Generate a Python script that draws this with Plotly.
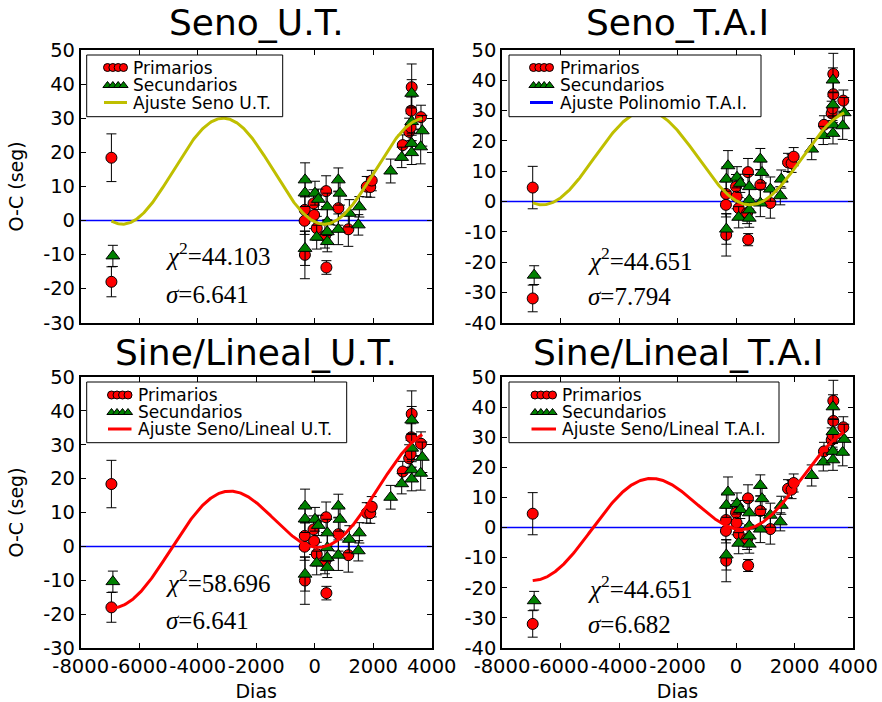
import numpy as np
import plotly.graph_objects as go

# ---------------- data ----------------
# U.T. data
prim_ut_x = [-6950, -6950, -345, -340, -335, -40, -20, 70, 350, 390, 400, 810, 1150,
             1780, 1900, 1950, 3010, 3230, 3280, 3300, 3316, 3634]
prim_ut_y = [18.4, -18.0, -0.1, 3.1, -10.1, 5.0, 1.6, -2.3, -4.6, 8.6, -13.8, 3.6, -2.6,
             9.9, 9.8, 11.7, 22.1, 26.0, 27.3, 32.2, 39.1, 30.3]
prim_ut_e = [7.0, 4.4, 4.0, 4.0, 7.0, 4.0, 4.0, 3.5, 3.5, 4.5, 2.0, 5.0, 5.0,
             3.0, 3.0, 3.0, 3.0, 4.0, 4.0, 4.0, 6.8, 3.5]

sec_ut_x = [-6900, -330, -330, -330, 10, 124, 68, 431, 431, 431, 431, 808, 865, 808,
            1184, 1526, 1492, 2598, 2974, 3316, 3316, 3316, 3316, 3679, 3624]
sec_ut_y = [-10.4, 11.9, 8.1, -8.2, 8.0, 6.2, -4.9, 4.0, -0.4, -3.3, -6.2, 11.9, 8.0, -2.6,
            2.1, 4.0, -1.3, 14.5, 18.5, 37.3, 29.0, 22.6, 19.9, 26.3, 21.6]
sec_ut_e = [3.1, 5.0, 4.0, 5.0, 3.5, 3.0, 3.5, 4.0, 4.0, 3.5, 3.0, 3.5, 3.5, 4.5,
            4.0, 3.0, 3.0, 3.5, 3.0, 4.0, 4.0, 3.0, 3.5, 4.5, 5.0]

# T.A.I. data
prim_tai_x = [-6950, -6950, -345, -340, -335, 0, 20, 92, 380, 410, 415, 832, 1174,
              1778, 1900, 1972, 3008, 3271, 3300, 3327, 3327, 3669]
prim_tai_y = [4.6, -32.0, -1.1, 2.5, -11.0, 4.9, 1.6, -2.2, -3.8, 9.7, -12.6, 5.5, -0.5,
              12.9, 12.6, 14.8, 25.3, 29.1, 30.7, 35.4, 42.1, 33.3]
prim_tai_e = [7.0, 4.4, 4.0, 4.0, 7.0, 4.0, 4.0, 3.5, 3.5, 4.5, 2.0, 5.0, 5.0,
              3.0, 3.0, 3.0, 3.0, 4.0, 4.0, 4.0, 6.8, 3.5]

sec_tai_x = [-6900, -274, -330, -330, 34, 147, 92, 454, 454, 454, 454, 832, 889, 832,
             1174, 1549, 1515, 2588, 2985, 3316, 3316, 3316, 3316, 3648, 3700]
sec_tai_y = [-24.3, 11.8, 7.4, -9.1, 8.0, 6.0, -5.2, 4.9, 0.5, -2.8, -5.5, 14.0, 9.6, -0.5,
             4.1, 7.4, 1.9, 17.3, 21.8, 40.1, 31.9, 25.3, 22.5, 25.0, 29.3]
sec_tai_e = [3.1, 5.0, 4.0, 5.0, 3.5, 3.0, 3.5, 4.0, 4.0, 3.5, 3.0, 3.5, 3.5, 4.5,
             4.0, 3.0, 3.0, 3.5, 3.0, 4.0, 4.0, 3.0, 3.5, 4.5, 5.0]

# fit parameters: y = c + b*x + A*sin(2*pi*(x - x0)/P)
fit_seno_ut = dict(c=14.45, b=0.0, A=15.55, P=6900.0, x0=-4850.0)
fit_seno_tai = dict(c=14.4, b=0.0, A=15.5, P=7100.0, x0=-4846.0)
fit_lin_ut = dict(c=11.52, b=0.00253, A=12.46, P=7077.0, x0=-4923.0)
fit_lin_tai = dict(c=11.04, b=0.00237, A=12.42, P=7180.0, x0=-4935.0)

titles = ["Seno_U.T.", "Seno_T.A.I", "Sine/Lineal_U.T.", "Sine/Lineal_T.A.I"]
legend_labels = [
    ["Primarios", "Secundarios", "Ajuste Seno U.T."],
    ["Primarios", "Secundarios", "Ajuste Polinomio T.A.I."],
    ["Primarios", "Secundarios", "Ajuste Seno/Lineal U.T."],
    ["Primarios", "Secundarios", "Ajuste Seno/Lineal T.A.I."],
]
chi_texts = ["44.103", "44.651", "58.696", "44.651"]
sigma_texts = ["6.641", "7.794", "6.641", "6.682"]

x_ticks = [-8000, -6000, -4000, -2000, 0, 2000, 4000]
x_ticktext = ["-8000", "-6000", "-4000", "-2000", "0", "2000", "4000"]
y_ticks_ut = [-30, -20, -10, 0, 10, 20, 30, 40, 50]
y_ticks_tai = [-40, -30, -20, -10, 0, 10, 20, 30, 40, 50]

# ---------------- figure ----------------
W, H = 882, 702
fig = go.Figure()

YELLOW = "#bfbf00"
RED = "#ff0000"
GREEN = "#008000"
BLUE = "#0000ff"


def model(p, x):
    return p["c"] + p["b"] * x + p["A"] * np.sin(2 * np.pi * (x - p["x0"]) / p["P"])


panels = [
    dict(data=(prim_ut_x, prim_ut_y, prim_ut_e, sec_ut_x, sec_ut_y, sec_ut_e), fit=fit_seno_ut,
         color=YELLOW, xa="x", ya="y", legline=YELLOW),
    dict(data=(prim_tai_x, prim_tai_y, prim_tai_e, sec_tai_x, sec_tai_y, sec_tai_e), fit=fit_seno_tai,
         color=YELLOW, xa="x2", ya="y2", legline=BLUE),
    dict(data=(prim_ut_x, prim_ut_y, prim_ut_e, sec_ut_x, sec_ut_y, sec_ut_e), fit=fit_lin_ut,
         color=RED, xa="x3", ya="y3", legline=RED),
    dict(data=(prim_tai_x, prim_tai_y, prim_tai_e, sec_tai_x, sec_tai_y, sec_tai_e), fit=fit_lin_tai,
         color=RED, xa="x4", ya="y4", legline=RED),
]

for i, p in enumerate(panels):
    px_, py_, pe_, sx_, sy_, se_ = p["data"]
    allx = list(px_) + list(sx_)
    xc = np.linspace(min(allx), max(allx), 400)
    # horizontal reference / polynomial fit line at O-C = 0
    fig.add_trace(go.Scatter(x=[x_ticks[0], x_ticks[-1]], y=[0.0, 0.0], mode="lines",
                             line=dict(color=BLUE, width=1.5), showlegend=False,
                             xaxis=p["xa"], yaxis=p["ya"], hoverinfo="skip"))
    fig.add_trace(go.Scatter(x=px_, y=py_, mode="markers", name="Primarios", showlegend=False,
                             marker=dict(symbol="circle", size=11, color=RED,
                                         line=dict(color="black", width=1)),
                             error_y=dict(type="data", array=pe_, color="black", thickness=1, width=5),
                             xaxis=p["xa"], yaxis=p["ya"]))
    fig.add_trace(go.Scatter(x=sx_, y=sy_, mode="markers", name="Secundarios", showlegend=False,
                             marker=dict(symbol="triangle-up", size=12, color=GREEN,
                                         line=dict(color="black", width=1)),
                             error_y=dict(type="data", array=se_, color="black", thickness=1, width=5),
                             xaxis=p["xa"], yaxis=p["ya"]))
    fig.add_trace(go.Scatter(x=xc, y=model(p["fit"], xc), mode="lines",
                             line=dict(color=p["color"], width=3), showlegend=False,
                             name=legend_labels[i][2],
                             xaxis=p["xa"], yaxis=p["ya"], hoverinfo="skip"))

# domains in pixels
xdom = [(80.7, 431.7), (502.0, 853.0)]
ydom = [(50.0, 322.7), (377.0, 648.0)]


def dx(a, b):
    return [a / W, b / W]


def dy(a, b):
    return [1 - b / H, 1 - a / H]


axis_common = dict(showgrid=False, zeroline=False,
                   showline=True, linecolor="black", linewidth=1.6,
                   mirror="ticks", ticks="inside", ticklen=5, tickwidth=1, tickcolor="black",
                   tickfont=dict(family="DejaVu Sans", size=19.5, color="black"))

layout = dict(width=W, height=H, margin=dict(l=0, r=0, t=0, b=0), template="none",
              paper_bgcolor="white", plot_bgcolor="rgba(0,0,0,0)", showlegend=False,
              font=dict(family="DejaVu Sans", color="black"))

for k in range(4):
    r, c = divmod(k, 2)
    suffix = "" if k == 0 else str(k + 1)
    xa = dict(axis_common, domain=dx(*xdom[c]), range=[-8000, 4000], tickmode="array",
              tickvals=x_ticks, ticktext=x_ticktext, tickangle=0,
              anchor="y" + suffix, showticklabels=(r == 1))
    if r == 1:
        xa["title"] = dict(text="Dias", font=dict(family="DejaVu Sans", size=19), standoff=7)
    yt = y_ticks_ut if c == 0 else y_ticks_tai
    ya = dict(axis_common, domain=dy(*ydom[r]), range=[yt[0], yt[-1]], tickmode="array",
              tickvals=yt, ticktext=[str(v) for v in yt], anchor="x" + suffix)
    if c == 0:
        ya["title"] = dict(text="O-C (seg)", font=dict(family="DejaVu Sans", size=19), standoff=14)
    layout["xaxis" + suffix] = xa
    layout["yaxis" + suffix] = ya

# overlay axis in pixel units used for the legend boxes
layout["xaxis5"] = dict(domain=[0, 1], range=[0, W], visible=False, fixedrange=True, anchor="y5")
layout["yaxis5"] = dict(domain=[0, 1], range=[H, 0], visible=False, fixedrange=True, anchor="x5")
fig.update_layout(**layout)

# legend layout (pixels): box x0,x1,y0,y1 ; row centers ; glyph x-span ; text x
legend_geo = [
    dict(box=(86.7, 282.7, 55.0, 116.7), rows=(67.5, 85.0, 102.5), glyph=(104.0, 127.0), tx=131.0),
    dict(box=(509.0, 761.0, 55.0, 116.7), rows=(67.5, 85.0, 102.5), glyph=(530.0, 553.0), tx=557.5),
    dict(box=(86.7, 346.7, 382.0, 442.7), rows=(395.0, 412.0, 429.0), glyph=(108.0, 131.5), tx=136.0),
    dict(box=(509.0, 779.0, 382.0, 442.7), rows=(395.0, 412.0, 429.0), glyph=(531.5, 556.0), tx=559.5),
]

annotations = []
for k, g in enumerate(legend_geo):
    x0, x1, y0, y1 = g["box"]
    fig.add_trace(go.Scatter(x=[x0, x1, x1, x0, x0], y=[y0, y0, y1, y1, y0], mode="lines",
                             fill="toself", fillcolor="white", line=dict(color="black", width=1),
                             xaxis="x5", yaxis="y5", showlegend=False, hoverinfo="skip"))
    ga, gb = g["glyph"]
    gx = list(np.linspace(ga + 3.5, gb - 3.5, 4))
    fig.add_trace(go.Scatter(x=gx, y=[g["rows"][0]] * 4, mode="markers",
                             marker=dict(symbol="circle", size=8, color=RED, line=dict(color="black", width=1)),
                             xaxis="x5", yaxis="y5", showlegend=False, hoverinfo="skip"))
    fig.add_trace(go.Scatter(x=gx, y=[g["rows"][1] + 0.5] * 4, mode="markers",
                             marker=dict(symbol="triangle-up", size=8, color=GREEN,
                                         line=dict(color="black", width=1)),
                             xaxis="x5", yaxis="y5", showlegend=False, hoverinfo="skip"))
    fig.add_trace(go.Scatter(x=[ga, gb], y=[g["rows"][2]] * 2, mode="lines",
                             line=dict(color=panels[k]["legline"], width=3),
                             xaxis="x5", yaxis="y5", showlegend=False, hoverinfo="skip"))
    for j in range(3):
        annotations.append(dict(text=legend_labels[k][j], x=g["tx"], y=g["rows"][j],
                                xref="x5", yref="y5", xanchor="left", yanchor="middle",
                                showarrow=False,
                                font=dict(family="DejaVu Sans", size=17, color="black")))

title_y = [22, 22, 352, 352]
chi_y = [0.252, 0.235, 0.247, 0.225]
sig_y = [0.103, 0.096, 0.100, 0.085]
for k in range(4):
    r, c = divmod(k, 2)
    suffix = "" if k == 0 else str(k + 1)
    cx = (xdom[c][0] + xdom[c][1]) / 2
    annotations.append(dict(text=titles[k], x=cx / W, y=1 - title_y[k] / H, xref="paper", yref="paper",
                            xanchor="center", yanchor="middle", showarrow=False,
                            font=dict(family="DejaVu Sans", size=36, color="black")))
    annotations.append(dict(text="<i>χ</i><sup>2</sup>=" + chi_texts[k], x=0.238, y=chi_y[k],
                            xref="x" + suffix + " domain", yref="y" + suffix + " domain",
                            xanchor="left", yanchor="middle", showarrow=False,
                            font=dict(family="Liberation Serif", size=25, color="black")))
    annotations.append(dict(text="<i>σ</i>=" + sigma_texts[k], x=0.238, y=sig_y[k],
                            xref="x" + suffix + " domain", yref="y" + suffix + " domain",
                            xanchor="left", yanchor="middle", showarrow=False,
                            font=dict(family="Liberation Serif", size=25, color="black")))
fig.update_layout(annotations=annotations)

fig.write_html("out.html")
